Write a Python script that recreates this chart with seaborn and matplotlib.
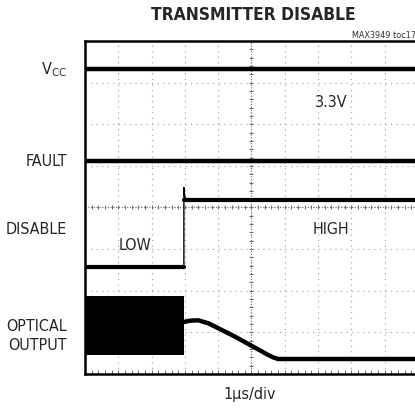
import numpy as np
import pandas as pd
import matplotlib.pyplot as plt
import seaborn as sns

# Trace data in scope divisions (x: 1us/div, y: div from bottom)
VCC_X = [0.0, 10.0]
VCC_Y = [7.33, 7.33]

FAULT_X = [0.0, 10.0]
FAULT_Y = [5.12, 5.12]

DISABLE_LOW_X = [0.0, 2.97]
DISABLE_LOW_Y = [2.57, 2.57]
DISABLE_HIGH_X = [2.97, 10.0]
DISABLE_HIGH_Y = [4.18, 4.18]
DISABLE_EDGE_X = [2.97, 2.97, 2.99, 3.02]
DISABLE_EDGE_Y = [2.57, 4.48, 4.30, 4.18]

OPT_BURST_X = [0.0, 2.97]
OPT_BURST_TOP = [1.87, 1.87]
OPT_BURST_BOT = [0.45, 0.45]

OPT_X = [2.97, 3.15, 3.4, 3.7, 4.05, 4.5, 4.95, 5.25, 5.47, 5.65, 5.8, 10.0]
OPT_Y = [1.25, 1.28, 1.29, 1.22, 1.08, 0.90, 0.70, 0.57, 0.47, 0.40, 0.36, 0.36]

CHANNEL_LABELS = ["V$_{\\rm CC}$", "FAULT", "DISABLE", "OPTICAL\nOUTPUT"]
CHANNEL_LABEL_Y = [7.33, 5.12, 3.5, 0.94]

sns.set_theme(style="white")
plt.rcParams["font.family"] = ["DejaVu Sans"]
plt.rcParams["font.stretch"] = "condensed"

fig = plt.figure(figsize=(4.15, 4.10), dpi=100)
ax = fig.add_axes([0.2048, 0.0854, 0.8024, 0.8122])
ax.set_xlim(0, 10)
ax.set_ylim(0, 8)

# graticule
grid_col = "#9a9a9a"
for gx in range(1, 10):
    ax.axvline(gx, color=grid_col, lw=0.8, ls=(0, (1, 4)), zorder=1)
for gy in range(1, 8):
    ax.axhline(gy, color=grid_col, lw=0.8, ls=(0, (1, 4)), zorder=1)
ax.axvline(5, color="#707070", lw=0.8, ls=(0, (1, 1.5)), zorder=1)
ax.axhline(4, color="#707070", lw=0.8, ls=(0, (1, 1.5)), zorder=1)
tx = np.arange(0, 10.01, 0.2)
ty = np.arange(0, 8.01, 0.2)
ax.plot(tx, np.full_like(tx, 4), ls="none", marker="|", ms=3.5, mew=0.8, color="#707070", zorder=1)
ax.plot(np.full_like(ty, 5), ty, ls="none", marker="_", ms=3.5, mew=0.8, color="#707070", zorder=1)
ax.plot(tx, np.full_like(tx, 0.05), ls="none", marker="|", ms=3, mew=0.7, color="#707070", zorder=1)

# traces
trace_kw = dict(color="black", estimator=None, sort=False, legend=False, zorder=3)
sns.lineplot(x=VCC_X, y=VCC_Y, lw=3.2, ax=ax, **trace_kw)
sns.lineplot(x=FAULT_X, y=FAULT_Y, lw=3.2, ax=ax, **trace_kw)
sns.lineplot(x=DISABLE_LOW_X, y=DISABLE_LOW_Y, lw=3.0, ax=ax, **trace_kw)
sns.lineplot(x=DISABLE_HIGH_X, y=DISABLE_HIGH_Y, lw=3.0, ax=ax, **trace_kw)
sns.lineplot(x=DISABLE_EDGE_X, y=DISABLE_EDGE_Y, lw=1.0, ax=ax, **trace_kw)
ax.fill_between(OPT_BURST_X, OPT_BURST_BOT, OPT_BURST_TOP, color="black", lw=0, zorder=3)
sns.lineplot(x=OPT_X, y=OPT_Y, lw=3.2, ax=ax, **trace_kw)

for s in ax.spines.values():
    s.set_linewidth(1.8)
    s.set_color("black")
ax.set_xticks([])
ax.set_yticks([])

# annotations
fs = 11.5
ax.text(7.4, 6.55, "3.3V", fontsize=fs, ha="center", va="center")
ax.text(1.5, 3.1, "LOW", fontsize=fs, ha="center", va="center")
ax.text(7.4, 3.5, "HIGH", fontsize=fs, ha="center", va="center")
for lab, ly in zip(CHANNEL_LABELS, CHANNEL_LABEL_Y):
    fig.text(67 / 415, ax.transData.transform((0, ly))[1] / fig.bbox.height, lab,
             fontsize=fs, ha="right", va="center", linespacing=1.35)

fig.text(253 / 415, 1 - 15 / 410, "TRANSMITTER DISABLE", fontsize=12.5,
         fontweight="heavy", ha="center", va="center")
fig.text(416 / 415, 1 - 35 / 410, "MAX3949 toc17", fontsize=6.5, ha="right", va="center",
         color="#333333")
fig.text(250 / 415, 1 - 395 / 410, "1\u00b5s/div", fontsize=fs, ha="center", va="center")

fig.savefig("out.png", dpi=100)
